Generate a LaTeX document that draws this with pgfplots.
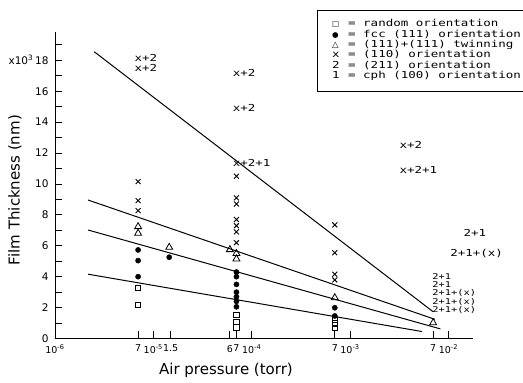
\documentclass[border=0pt]{standalone}
\usepackage{pgfplots}
\pgfplotsset{compat=1.18}
\usepackage{fontspec}
\setmainfont{DejaVu Sans}
\newfontfamily\plotfont{DejaVu Sans Mono}[FakeStretch=1.3]
\newfontfamily\symfont{DejaVu Sans}

\pgfplotstableread{
x y
7e-6 3.29
7e-6 2.17
7e-5 1.55
7e-5 1.05
7e-5 0.72
7e-4 1.20
7e-4 0.98
7e-4 0.66
}\squaredata
\pgfplotstableread{
x y
7e-6 5.73
7e-6 5.04
7e-6 4.00
1.45e-5 5.26
7e-5 4.30
7e-5 4.00
7e-5 3.50
7e-5 3.00
7e-5 2.70
7e-5 2.40
7e-5 2.05
7e-4 1.99
7e-4 1.46
}\dotdata
\pgfplotstableread{
x y
7e-6 7.24
7e-6 6.81
1.45e-5 5.90
6e-5 5.75
7e-5 5.50
7e-5 5.15
7e-4 2.64
7e-3 1.02
}\tridata
\pgfplotstableread{
x y
7e-6 10.15
7e-6 8.92
7e-6 8.27
7e-5 10.50
7e-5 9.10
7e-5 8.70
7e-5 7.70
7e-5 7.30
7e-5 6.90
7e-5 6.20
7e-4 7.35
7e-4 5.55
7e-4 4.16
7e-4 3.79
}\xdata
\pgfplotstableread{
x y t
7e-6 18.16 x+2
7e-6 17.50 x+2
7e-5 17.20 x+2
7e-5 14.90 x+2
7e-5 11.38 x+2+1
3.47e-3 12.52 x+2
3.47e-3 10.90 x+2+1
1.55e-2 6.85 2+1
1.14e-2 5.47 2+1+(x)
}\biglabels
\pgfplotstableread{
x y t
7e-3 4.00 2+1
7e-3 3.46 2+1
7e-3 2.93 2+1+(x)
7e-3 2.38 2+1+(x)
7e-3 1.84 2+1+(x)
}\stacklabels

\begin{document}
\begin{tikzpicture}
\path[use as bounding box] (0,0) rectangle (523pt,383pt);
\begin{axis}[
  at={(55pt,44.5pt)}, anchor=south west,
  scale only axis, width=418pt, height=306pt,
  xmode=log, xmin=1e-6, xmax=1.78e-2,
  ymin=0, ymax=19.8,
  axis x line*=bottom, axis y line*=left,
  axis line style={-, line width=0.9pt},
  xtick={1e-6,7e-6,1e-5,1.5e-5,6e-5,7e-5,1e-4,7e-4,1e-3,7e-3,1e-2},
  xticklabels={10\textsuperscript{-6},7,10\textsuperscript{-5},1.5,6,7,10\textsuperscript{-4},7,10\textsuperscript{-3},7,10\textsuperscript{-2}},
  xminorticks=false,
  ytick={0,2,...,18},
  yticklabels={0,2,4,6,8,10,12,14,16,{x10\textsuperscript{3}\,18}},
  minor ytick={1,3,...,19},
  tick align=inside,
  major tick length=7pt, minor tick length=7pt,
  tick style={black, line width=0.8pt},
  xticklabel style={font=\fontsize{9.5}{11}\selectfont, yshift=-3pt},
  yticklabel style={font=\fontsize{10.5}{12}\selectfont, xshift=-3pt},
  xlabel={Air pressure (torr)},
  ylabel={Film Thickness (nm)},
  xlabel style={font=\fontsize{15}{18}\selectfont, at={(axis description cs:0.409,-0.103)}, anchor=center},
  ylabel style={font=\fontsize{15}{18}\selectfont, at={(axis description cs:-0.0957,0.485)}, anchor=center},
  legend style={at={(axis description cs:0.6268,1.0735)}, anchor=north west,
    draw=black, line width=0.8pt, font=\fontsize{9.6}{10}\plotfont,
    inner xsep=2pt, inner ysep=9.5pt, row sep=0pt, column sep=2pt,
    nodes={inner sep=0pt, text height=7pt, text depth=3.3pt}},
  legend cell align=left,
  clip=false,
]
\addlegendimage{legend image code/.code={\path (0,0) (26pt,0); \node[inner sep=0pt, font=\fontsize{7.5}{8}\symfont] at (12pt,0) {□};}}
\addlegendimage{legend image code/.code={\path (0,0) (26pt,0); \node[inner sep=0pt, font=\fontsize{7.5}{8}\symfont] at (12pt,0) {●};}}
\addlegendimage{legend image code/.code={\path (0,0) (26pt,0); \node[inner sep=0pt, font=\fontsize{8.5}{9}\symfont] at (12pt,0) {△};}}
\addlegendimage{legend image code/.code={\path (0,0) (26pt,0); \node[inner sep=0pt, font=\fontsize{9.6}{10}\plotfont] at (12pt,0) {x};}}
\addlegendimage{legend image code/.code={\path (0,0) (26pt,0); \node[inner sep=0pt, font=\fontsize{9.6}{10}\plotfont] at (12pt,0) {2};}}
\addlegendimage{legend image code/.code={\path (0,0) (26pt,0); \node[inner sep=0pt, font=\fontsize{9.6}{10}\plotfont] at (12pt,0) {1};}}
\addlegendentry{= random orientation}
\addlegendentry{= fcc (111) orientation}
\addlegendentry{= (111)+(111) twinning}
\addlegendentry{= (110) orientation}
\addlegendentry{= (211) orientation}
\addlegendentry{= cph (100) orientation}

\addplot[forget plot, black, line width=1pt] coordinates {(2.5e-6,18.56) (7.0e-3,1.73)};
\addplot[forget plot, black, line width=1pt] coordinates {(2.17e-6,8.96) (7.3e-3,1.24)};
\addplot[forget plot, black, line width=1pt] coordinates {(2.17e-6,7.02) (8.3e-3,0.62)};
\addplot[forget plot, black, line width=1pt] coordinates {(2.17e-6,4.16) (5.4e-3,0.45)};

\addplot[forget plot, only marks, mark=square, mark size=2.6pt, black, mark options={line width=0.8pt, fill=white}] table {\squaredata};
\addplot[forget plot, only marks, mark=*, mark size=2.6pt, black] table {\dotdata};
\addplot[forget plot, only marks, mark=triangle, mark size=4pt, black, mark options={line width=0.8pt, fill=white}] table {\tridata};
\addplot[forget plot, only marks, mark=x, mark size=3.5pt, black, mark options={line width=0.9pt}] table {\xdata};

\addplot[forget plot, only marks, mark=none, nodes near coords, point meta=explicit symbolic,
  nodes near coords style={anchor=west, inner sep=0pt, xshift=-3.75pt, font=\fontsize{9.6}{10}\plotfont, text=black}]
  table[meta=t] {\biglabels};
\addplot[forget plot, only marks, mark=none, nodes near coords, point meta=explicit symbolic,
  nodes near coords style={anchor=west, inner sep=0pt, xshift=-1pt, font=\fontsize{8}{8}\plotfont, text=black}]
  table[meta=t] {\stacklabels};
\end{axis}
\end{tikzpicture}
\end{document}
